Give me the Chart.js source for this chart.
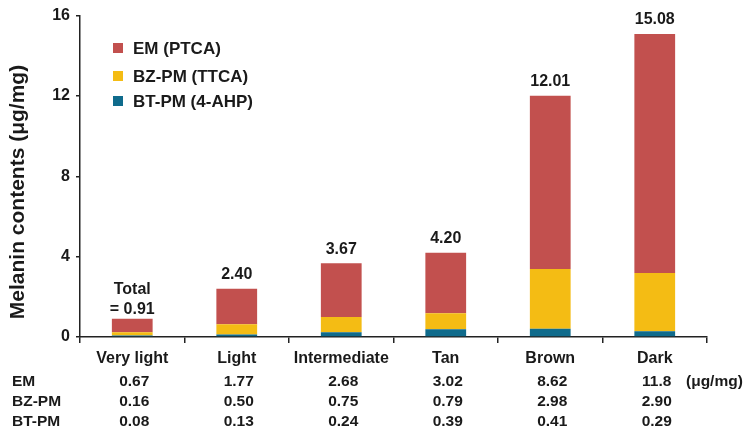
<!DOCTYPE html>
<html>
<head>
<meta charset="utf-8">
<script src="https://cdn.jsdelivr.net/npm/chart.js@4/dist/chart.umd.min.js"></script>
<style>
html,body{margin:0;padding:0;background:#fff;}
#wrap{width:749px;height:438px;position:relative;}
</style>
</head>
<body>
<div id="wrap"><canvas id="c" width="749" height="438"></canvas></div>
<script>
const categories = ['Very light', 'Light', 'Intermediate', 'Tan', 'Brown', 'Dark'];
const emValues = [0.67, 1.77, 2.68, 3.02, 8.62, 11.89];
const bzValues = [0.16, 0.50, 0.75, 0.79, 2.98, 2.90];
const btValues = [0.08, 0.13, 0.24, 0.39, 0.41, 0.29];
const totalLabels = [['Total', '= 0.91'], ['2.40'], ['3.67'], ['4.20'], ['12.01'], ['15.08']];
const tableRowLabels = ['EM', 'BZ-PM', 'BT-PM'];
const emText = ['0.67', '1.77', '2.68', '3.02', '8.62', '11.8'];
const bzText = ['0.16', '0.50', '0.75', '0.79', '2.98', '2.90'];
const btText = ['0.08', '0.13', '0.24', '0.39', '0.41', '0.29'];
const tableUnit = '(μg/mg)';
const yTicks = [0, 4, 8, 12, 16];
const yTitle = 'Melanin contents (μg/mg)';
const seriesNames = ['EM (PTCA)', 'BZ-PM (TTCA)', 'BT-PM (4-AHP)'];

const RED = '#c2504e', YEL = '#f4bc14', BLU = '#0f6b8c', INK = '#1a1a1a';
const FONT = '"Liberation Sans", Arial, sans-serif';

const extras = {
  id: 'extras',
  afterDraw(chart) {
    const ctx = chart.ctx;
    const x = chart.scales.x, y = chart.scales.y;
    ctx.save();
    ctx.fillStyle = INK;
    // totals
    ctx.font = 'bold 16px ' + FONT;
    ctx.textAlign = 'center';
    ctx.textBaseline = 'middle';
    categories.forEach((c, i) => {
      const sum = emValues[i] + bzValues[i] + btValues[i];
      const top = y.getPixelForValue(sum);
      const cx = x.getPixelForValue(i);
      const lines = totalLabels[i];
      const gap = lines.length > 1 ? 9 : 14;
      lines.forEach((t, j) => {
        const off = (lines.length - 1 - j) * 20;
        ctx.fillText(t, cx, top - gap - off);
      });
    });
    // legend
    const legColors = [RED, YEL, BLU];
    const legY = [48, 76, 101];
    ctx.textAlign = 'left';
    ctx.font = 'bold 17px ' + FONT;
    seriesNames.forEach((n, i) => {
      ctx.fillStyle = legColors[i];
      ctx.fillRect(113, legY[i] - 5, 10, 10);
      ctx.fillStyle = INK;
      ctx.fillText(n, 133, legY[i] + 1);
    });
    // table
    ctx.font = 'bold 15.5px ' + FONT;
    const rows = [emText, bzText, btText];
    const rowY = [382, 402, 422];
    rows.forEach((r, ri) => {
      ctx.textAlign = 'left';
      ctx.fillText(tableRowLabels[ri], 12, rowY[ri]);
      ctx.textAlign = 'center';
      r.forEach((t, i) => {
        ctx.fillText(t, x.getPixelForValue(i) + 2, rowY[ri]);
      });
    });
    ctx.textAlign = 'left';
    ctx.fillText(tableUnit, 686, rowY[0]);
    // y title
    ctx.font = 'bold 21px ' + FONT;
    ctx.translate(18, 192);
    ctx.rotate(-Math.PI / 2);
    ctx.textAlign = 'center';
    ctx.fillText(yTitle, 0, 0);
    ctx.restore();
  }
};

new Chart(document.getElementById('c'), {
  type: 'bar',
  data: {
    labels: categories,
    datasets: [
      { label: seriesNames[2], data: btValues, backgroundColor: BLU },
      { label: seriesNames[1], data: bzValues, backgroundColor: YEL },
      { label: seriesNames[0], data: emValues, backgroundColor: RED }
    ]
  },
  options: {
    responsive: false,
    animation: false,
    devicePixelRatio: 1,
    layout: { padding: { top: 15, right: 42, left: 0, bottom: 0 } },
    datasets: { bar: { barPercentage: 0.39, categoryPercentage: 1 } },
    plugins: { legend: { display: false }, tooltip: { enabled: false } },
    scales: {
      x: {
        stacked: true,
        grid: { display: true, drawOnChartArea: false, offset: true, tickLength: 6, color: '#222', lineWidth: 1.5 },
        border: { display: true, color: '#222', width: 1.5 },
        ticks: { color: INK, font: { family: FONT, size: 16, weight: 'bold' }, padding: 6, maxRotation: 0 },
        afterFit(s) { s.height = 101; }
      },
      y: {
        stacked: true,
        min: 0, max: 16,
        afterBuildTicks(s) { s.ticks = yTicks.map(v => ({ value: v })); },
        grid: { display: true, drawOnChartArea: false, tickLength: 4, color: '#222', lineWidth: 1.5 },
        border: { display: true, color: '#222', width: 1.5 },
        ticks: { color: INK, font: { family: FONT, size: 16, weight: 'bold' }, padding: 6 },
        afterFit(s) { s.width = 80; }
      }
    }
  },
  plugins: [extras]
});
</script>
</body>
</html>
